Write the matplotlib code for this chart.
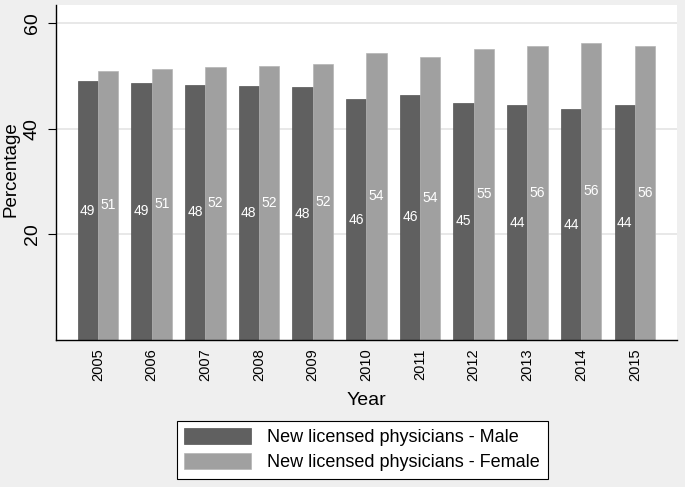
import matplotlib
matplotlib.use("Agg")
import matplotlib.pyplot as plt
import numpy as np

plt.rcParams["font.family"] = ["Liberation Sans", "DejaVu Sans"]

years = ["2005", "2006", "2007", "2008", "2009", "2010",
         "2011", "2012", "2013", "2014", "2015"]
male = [49.0, 48.7, 48.3, 48.1, 47.8, 45.6, 46.4, 44.9, 44.4, 43.7, 44.4]
female = [51.0, 51.3, 51.7, 51.9, 52.2, 54.4, 53.6, 55.1, 55.6, 56.3, 55.6]
labels = ["New licensed physicians - Male", "New licensed physicians - Female"]

W, H = 685, 487
fig = plt.figure(figsize=(W / 100, H / 100), dpi=100)
fig.patch.set_facecolor("#efefef")

ax = fig.add_axes([56 / W, 1 - 340 / H, (676.7 - 56) / W, (340 - 4.5) / H])
ax.set_facecolor("white")

x = np.arange(len(years))
bw = 0.377
c_m, c_f = "#606060", "#a0a0a0"
b1 = ax.bar(x - bw / 2, male, bw, color=c_m, edgecolor="#555555", linewidth=0.5, label=labels[0], zorder=2)
b2 = ax.bar(x + bw / 2, female, bw, color=c_f, edgecolor="#b5b5b5", linewidth=0.5, label=labels[1], zorder=2)

# value labels in the middle of each bar
for xi, v in zip(x, male):
    ax.text(xi - bw / 2, v / 2, f"{v:.0f}", color="white", ha="center", va="center", fontsize=10, zorder=3)
for xi, v in zip(x, female):
    ax.text(xi + bw / 2, v / 2, f"{v:.0f}", color="white", ha="center", va="center", fontsize=10, zorder=3)

ax.set_xlim(-0.78, len(years) - 1 + 0.78)
ax.set_ylim(0, 63.5)
ax.set_yticks([20, 40, 60])
ax.yaxis.grid(True, color="#e4e4e4", linewidth=1.2, zorder=0)
ax.set_axisbelow(True)

ax.set_xticks(x)
ax.set_xticklabels(years, rotation=90, fontsize=10.5)
ax.tick_params(axis="x", length=0, pad=6)
ax.tick_params(axis="y", length=6, width=0.8, pad=5, labelsize=14, labelrotation=90)
for t in ax.get_yticklabels():
    t.set_va("center")

for s in ["top", "right"]:
    ax.spines[s].set_visible(False)
ax.spines["left"].set_linewidth(1.0)
ax.spines["bottom"].set_linewidth(1.0)

ax.set_ylabel("Percentage", fontsize=13.5)
ax.yaxis.set_label_coords(-0.058, 0.51)
ax.set_xlabel("Year", fontsize=14, labelpad=8)

leg = fig.legend(handles=[b1, b2], labels=labels, loc="upper left",
                 bbox_to_anchor=(176.7 / W, 1 - 420.7 / H), fontsize=13,
                 handlelength=3.7, handleheight=0.95, handletextpad=0.9,
                 labelspacing=0.38, borderpad=0.42, fancybox=False,
                 framealpha=1, edgecolor="black", borderaxespad=0)
leg.get_frame().set_linewidth(0.8)

fig.savefig("out.png", dpi=100, facecolor=fig.get_facecolor())
